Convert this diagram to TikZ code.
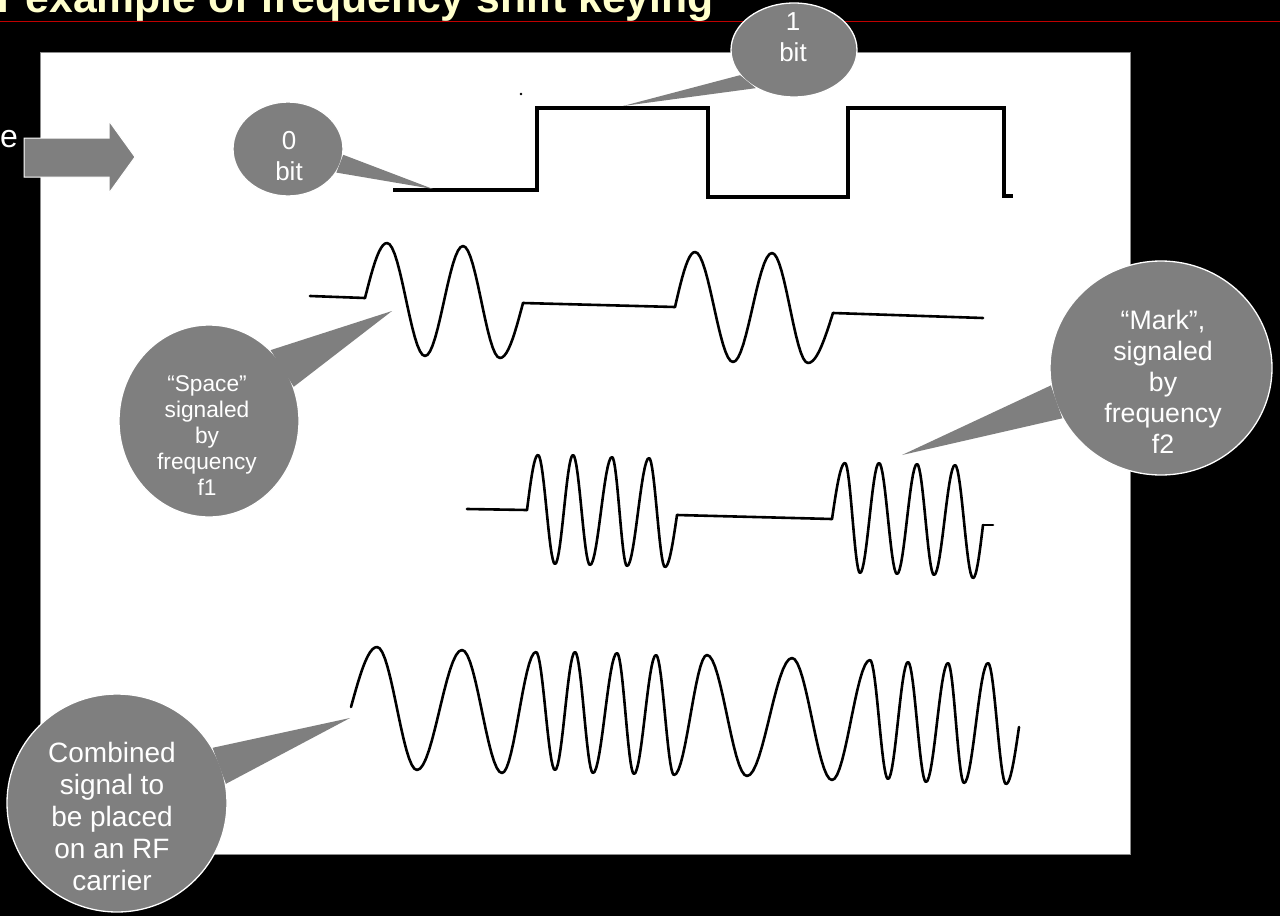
\documentclass[tikz,border=0pt]{standalone}
\usepackage{fontspec}
\setmainfont{Liberation Sans}
\usetikzlibrary{shapes.geometric}
\definecolor{ttl}{HTML}{FFFFCC}
\definecolor{redl}{HTML}{C00000}
\definecolor{cg}{HTML}{7F7F7F}
\newcommand\wvH[4]{\draw[wave] plot[domain=#1:#3,samples=16,variable=\t] (\t,{(#2+#4)/2+(#2-#4)/2*cos(180*(\t-#1)/(#3-#1))});}
\newcommand\wvU[4]{\draw[wave] plot[domain=#1:#3,samples=12,variable=\t] (\t,{#2+(#4-#2)*sin(90*(\t-#1)/(#3-#1))});}
\newcommand\wvD[4]{\draw[wave] plot[domain=#1:#3,samples=12,variable=\t] (\t,{#2+(#4-#2)*(1-cos(90*(\t-#1)/(#3-#1)))});}
\begin{document}
\begin{tikzpicture}[x=1pt,y=-1pt,
  wave/.style={line width=2.6pt,line cap=round,line join=round},
  sq/.style={line width=4.2pt,line join=miter},
  bubble/.style={ellipse,fill=cg,draw=white,line width=1.3pt,inner sep=0pt},
  btxt/.style={text=white,align=center,inner sep=0pt}]
\useasboundingbox (0,0) rectangle (1280,916);
\fill[black] (0,0) rectangle (1280,916);
\begin{scope}
\clip (0,0) rectangle (1280,916);
\node[anchor=base west,text=ttl,font=\fontsize{42.7}{50}\selectfont\bfseries,inner sep=0pt] (title) at (-3,12) {r example of frequency shift keying};
\end{scope}
\coordinate (rl) at (0,21);
\coordinate (rr) at (1280,21);
\draw[redl,line width=1pt] (rl) -- (rr);
% white panel
\filldraw[fill=white,draw=black!45,line width=1pt] (40,52) rectangle (1130,854);
% source arrow and cut text
\node[anchor=base east,text=white,font=\fontsize{32}{38}\selectfont,inner sep=0pt] (srce) at (18,147) {e};
\draw[fill=cg,draw=white,line width=1pt] (24,138) -- (109,138) -- (109,121) -- (135,157) -- (109,193) -- (109,177) -- (24,177) -- cycle;
% square wave (bits)
\draw[sq] (393,190) -- (537,190) -- (537,108) -- (708,108) -- (708,197) -- (848,197) -- (848,108) -- (1004,108) -- (1004,196) -- (1013,196);
\fill (521,94) circle (1.3);
% f1 wave
\draw[wave] (310,296) -- (365,298);
\wvU{365}{298}{387}{243}
\wvH{387}{243}{425}{356}
\wvH{425}{356}{463}{246}
\wvH{463}{246}{500}{358}
\wvD{500}{358}{523}{303}
\draw[wave] (523,303) -- (675,307);
\wvU{675}{307}{695}{252}
\wvH{695}{252}{733}{362}
\wvH{733}{362}{772}{253}
\wvH{772}{253}{808}{363}
\wvD{808}{363}{833}{313}
\draw[wave] (833,313) -- (983,318);
% f2 wave
\draw[wave] (467,509) -- (527,510);
\wvU{527}{510}{538}{455}
\wvH{538}{455}{555}{564}
\wvH{555}{564}{573}{455}
\wvH{573}{455}{590}{565}
\wvH{590}{565}{612}{457}
\wvH{612}{457}{627}{566}
\wvH{627}{566}{649}{458}
\wvH{649}{458}{665}{567}
\wvD{665}{567}{677}{515}
\draw[wave] (677,515) -- (832,519);
\wvU{832}{519}{845}{463}
\wvH{845}{463}{860}{573}
\wvH{860}{573}{879}{463}
\wvH{879}{463}{897}{574}
\wvH{897}{574}{917}{464}
\wvH{917}{464}{934}{575}
\wvH{934}{575}{955}{465}
\wvH{955}{465}{973}{578}
\wvD{973}{578}{983}{525}
\draw[wave] (983,525) -- (993,525);
% combined wave
\wvU{351}{707}{377}{647}
\wvH{377}{647}{417}{770}
\wvH{417}{770}{462}{650}
\wvH{462}{650}{502}{773}
\wvH{502}{773}{536}{652}
\wvH{536}{652}{555}{770}
\wvH{555}{770}{575}{652}
\wvH{575}{652}{593}{773}
\wvH{593}{773}{617}{653}
\wvH{617}{653}{634}{774}
\wvH{634}{774}{656}{655}
\wvH{656}{655}{674}{775}
\wvH{674}{775}{707}{655}
\wvH{707}{655}{747}{776}
\wvH{747}{776}{792}{658}
\wvH{792}{658}{832}{780}
\wvH{832}{780}{870}{660}
\wvH{870}{660}{888}{779}
\wvH{888}{779}{908}{662}
\wvH{908}{662}{926}{782}
\wvH{926}{782}{948}{663}
\wvH{948}{663}{964}{783}
\wvH{964}{783}{988}{663}
\wvH{988}{663}{1006}{784}
\wvD{1006}{784}{1019}{727}
% callout: 0 bit
\node[bubble,minimum width=110pt,minimum height=94pt] (b0) at (288,149) {};
\coordinate (t0) at (433,189);
\fill[cg] (b0.354) -- (t0) -- (b0.334) -- cycle;
\node[btxt,font=\fontsize{26}{31}\selectfont] (b0t) at (289,156) {0\\bit};
% callout: 1 bit
\node[bubble,minimum width=126pt,minimum height=94pt] (b1) at (794,50) {};
\coordinate (t1) at (623,106);
\fill[cg] (b1.205) -- (t1) -- (b1.225) -- cycle;
\node[btxt,font=\fontsize{26}{31}\selectfont] (b1t) at (793,37) {1\\bit};
% callout: Space
\node[bubble,minimum width=180pt,minimum height=192pt] (sp) at (209,421) {};
\coordinate (ts) at (392,311);
\fill[cg] (sp.49) -- (ts) -- (sp.22) -- cycle;
\node[btxt,font=\fontsize{22.7}{26}\selectfont] (spt) at (207,436) {“Space”\\signaled\\by\\frequency\\f1};
% callout: Mark
\node[bubble,minimum width=222pt,minimum height=214pt] (mk) at (1161,368) {};
\coordinate (tm) at (902,455);
\fill[cg] (mk.189) -- (tm) -- (mk.207) -- cycle;
\node[btxt,font=\fontsize{26.7}{31}\selectfont] (mkt) at (1163,382) {“Mark”,\\signaled\\by\\frequency\\f2};
% callout: Combined
\node[bubble,minimum width=220pt,minimum height=218pt] (cb) at (117,803) {};
\coordinate (tc) at (350,718);
\fill[cg] (cb.30) -- (tc) -- (cb.10) -- cycle;
\node[btxt,font=\fontsize{28}{32}\selectfont] (cbt) at (112,816) {Combined\\signal to\\be placed\\on an RF\\carrier};
\end{tikzpicture}
\end{document}
